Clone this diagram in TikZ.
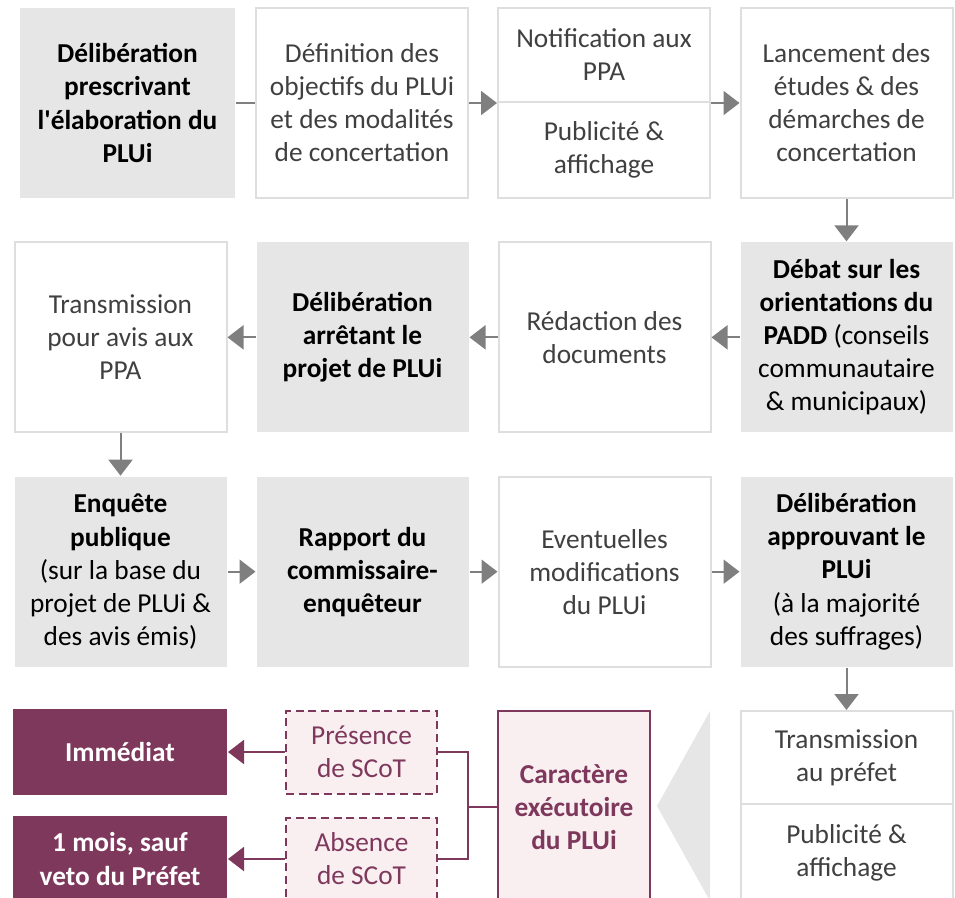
\documentclass[tikz,border=0pt]{standalone}
\usepackage{fontspec}
\setmainfont{Carlito}
\usepackage{xcolor}
\usepackage{tikz}
\usetikzlibrary{arrows.meta, positioning}

\definecolor{fondgris}{RGB}{231,230,230}
\definecolor{bordgris}{RGB}{222,222,222}
\definecolor{textegris}{RGB}{64,64,64}
\definecolor{flechegris}{RGB}{127,127,127}
\definecolor{prune}{RGB}{126,56,92}
\definecolor{rose}{RGB}{249,238,240}
\newcommand{\taille}{\fontsize{20.5pt}{24.8pt}\selectfont}

\begin{document}
\begin{tikzpicture}[x=0.75pt, y=-0.75pt, ->, >={Triangle[length=12pt, width=18pt]}, line width=1.5pt,
    every node/.style={rectangle, align=center, inner sep=0pt, font=\taille},
    etape/.style={draw=bordgris, fill=white, text=textegris, minimum width=159pt, minimum height=142.5pt},
    cle/.style={etape, draw=none, fill=fondgris, text=black},
    gras/.style={font=\taille\bfseries},
    scot/.style={draw=prune, dash pattern=on 6pt off 3.5pt, fill=rose, text=prune, minimum width=113.25pt, minimum height=62.25pt},
    issue/.style={fill=prune, text=white, font=\taille\bfseries, minimum width=160.5pt, minimum height=64.5pt},
    lien/.style={draw=flechegris},
    lienprune/.style={draw=prune},
    node distance=181.5pt]

    \useasboundingbox (0,0) rectangle (955,897);
    \clip (0,0) rectangle (955,897);

    % ligne 1
    \node [cle, gras, minimum width=161.25pt] (prescrit) at (127.5,103)
    {Délibération\\ prescrivant\\ l\textquotesingle élaboration du\\ PLUi};
    \node [etape] (objectifs) at (362,103)
    {Définition des\\ objectifs du PLUi\\ et des modalités\\ de concertation};
    \node [etape, minimum height=70.5pt] (notif) at (604,55) {Notification aux\\ PPA};
    \node [etape, minimum height=72pt] (affiche) at (604,150) {Publicité \&\\ affichage};
    \node [etape] (lancement) at (846.5,103)
    {Lancement des\\ études \& des\\ démarches de\\ concertation};

    % ligne 2
    \node [cle, below of = lancement, node distance=175.75pt] (padd)
    {\textbf{Débat sur les}\\ \textbf{orientations du}\\ \textbf{PADD} (conseils\\ communautaire\\ \& municipaux)};
    \node [etape, left of = padd] (redac) {Rédaction des\\ documents};
    \node [cle, gras, left of = redac] (arret) {Délibération\\ arrêtant le\\ projet de PLUi};
    \node [etape, left of = arret] (avisppa) {Transmission\\ pour avis aux\\ PPA};

    % ligne 3
    \node [cle, below of = avisppa, node distance=175.75pt] (enquete)
    {\textbf{Enquête}\\ \textbf{publique}\\ (sur la base du\\ projet de PLUi \&\\ des avis émis)};
    \node [cle, gras, right of = enquete] (rapport) {Rapport du\\ commissaire-\\ enquêteur};
    \node [etape, right of = rapport] (modif) {Eventuelles\\ modifications\\ du PLUi};
    \node [cle, right of = modif] (approuve)
    {\textbf{Délibération}\\ \textbf{approuvant le}\\ \textbf{PLUi}\\ (à la majorité\\ des suffrages)};

    % ligne 4
    \fill [fondgris, -] (710,711) -- (657,806) -- (710,901) -- cycle;
    \node [etape, minimum height=69.75pt] (prefet) at (846.5,757.5) {Transmission\\ au préfet};
    \node [etape, minimum height=73.5pt] (affiche2) at (846.5,853) {Publicité \&\\ affichage};
    \node [draw=prune, fill=rose, text=prune, font=\taille\bfseries, minimum width=114pt, minimum height=144pt] (execu) at (574,807)
    {Caractère\\ exécutoire\\ du PLUi};
    \node [scot] (presence) at (361.5,752) {Présence\\ de SCoT};
    \node [scot] (absence) at (361.5,859) {Absence\\ de SCoT};
    \node [issue] (immediat) at (120,752) {Immédiat};
    \node [issue] (unmois) at (120,859) {1 mois, sauf\\ veto du Préfet};
    \coordinate (jonction) at (468,807);

    % liens
    \draw [lien, -] (prescrit) -- (objectifs);
    \draw [lien] (objectifs) -- (objectifs -| notif.west);
    \draw [lien] (lancement -| notif.east) -- (lancement);
    \draw [lien] (lancement) -- (padd);
    \draw [lien] (padd) -- (redac);
    \draw [lien] (redac) -- (arret);
    \draw [lien] (arret) -- (avisppa);
    \draw [lien] (avisppa) -- (enquete);
    \draw [lien] (enquete) -- (rapport);
    \draw [lien] (rapport) -- (modif);
    \draw [lien] (modif) -- (approuve);
    \draw [lien] (approuve) -- (prefet);

    \draw [lienprune, -] (jonction) -- (execu);
    \draw [lienprune, -] (presence.east) -| (jonction) |- (absence.east);
    \draw [lienprune] (presence) -- (immediat);
    \draw [lienprune] (absence) -- (unmois);

\end{tikzpicture}
\end{document}
